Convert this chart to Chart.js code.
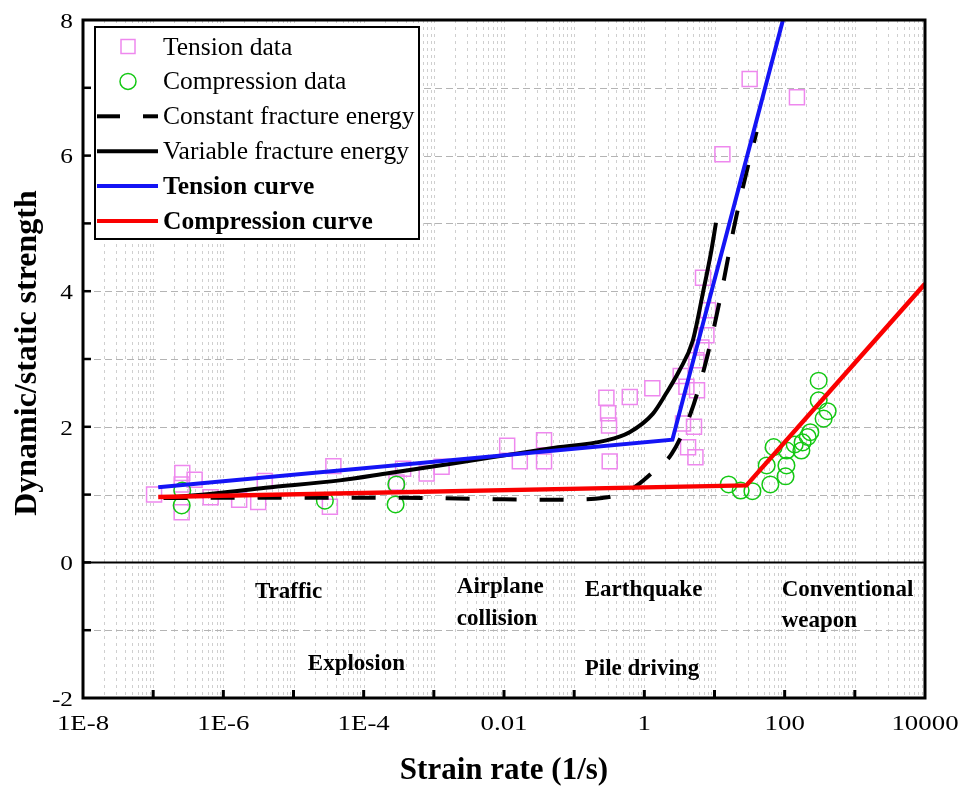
<!DOCTYPE html>
<html>
<head>
<meta charset="utf-8">
<script src="https://cdn.jsdelivr.net/npm/chart.js@4.4.1/dist/chart.umd.min.js"></script>
<style>
html,body{margin:0;padding:0;background:#ffffff;}
canvas{display:block;}
</style>
</head>
<body>
<canvas id="c" width="963" height="786"></canvas>
<script>
// ---------------- data ----------------
const xTickValues = [1e-8, 1e-6, 1e-4, 1e-2, 1, 1e2, 1e4];
const xTickLabels = ['1E-8', '1E-6', '1E-4', '0.01', '1', '100', '10000'];
const yTickValues = [-2, 0, 2, 4, 6, 8];
const yTickLabels = ['-2', '0', '2', '4', '6', '8'];

const tensionRate  = [1.03e-7, 2.6e-7, 3.9e-7, 2.55e-7, 2.55e-7, 6.6e-7, 1.68e-6, 3.14e-6, 3.9e-6, 3.7e-5, 3.3e-5,
                      2.94e-4, 3.65e-4, 7.9e-4, 1.29e-3, 0.0111, 0.0168, 0.0372, 0.0372, 0.288, 0.304, 0.314, 0.321,
                      0.62, 1.30, 3.3, 3.98, 5.63, 3.56, 5.1, 4.2, 5.35, 5.52, 6.5, 7.67, 8.08, 6.86, 12.96, 31.7, 149.6];
const tensionRatio = [1.00, 1.32, 1.22, 1.15, 0.74, 0.96, 0.925, 0.89, 1.20, 1.42, 0.82,
                      1.18, 1.38, 1.31, 1.41, 1.72, 1.49, 1.80, 1.49, 2.43, 2.20, 2.02, 1.49,
                      2.44, 2.57, 2.75, 2.59, 2.54, 2.05, 2.00, 1.70, 1.55, 2.98, 3.17, 3.35, 3.72, 4.20, 6.02, 7.13, 6.86];

const compressionRate  = [2.6e-7, 2.55e-7, 2.8e-5, 2.92e-4, 2.85e-4, 15.9, 23.6, 34.7, 62.5, 55.4, 69.7,
                          103, 106, 107, 139, 173, 180, 213, 232, 305, 305, 359, 410];
const compressionRatio = [1.06, 0.84, 0.91, 1.15, 0.855, 1.15, 1.06, 1.05, 1.15, 1.43, 1.70,
                          1.27, 1.43, 1.65, 1.74, 1.65, 1.77, 1.85, 1.92, 2.68, 2.39, 2.12, 2.23];

const constantRate  = [1.41e-7, 1e-5, 1e-3, 0.01, 0.0398, 0.126, 0.251, 0.501, 0.794, 1.41, 2.45, 4.57, 7.08, 10, 13.8, 18.6, 26.3, 39.8];
const constantRatio = [0.95, 0.955, 0.95, 0.93, 0.925, 0.93, 0.95, 1.02, 1.14, 1.36, 1.6, 2.2, 2.85, 3.5, 4.2, 4.9, 5.6, 6.35];

const variableRate  = [1.41e-7, 7.94e-7, 3.98e-6, 4.57e-5, 2.34e-4, 1.86e-3, 0.0447, 0.288, 0.617, 1.32, 2.04, 3.16, 4.9, 6.92, 9.02, 10.5];
const variableRatio = [0.95, 1.02, 1.10, 1.21, 1.32, 1.46, 1.68, 1.80, 1.92, 2.19, 2.49, 2.83, 3.27, 4.0, 4.6, 5.01];

const tensionCurveRate  = [1.18e-7, 2.51, 94.6];
const tensionCurveRatio = [1.11, 1.81, 8.0];
const compCurveRate  = [1.18e-7, 28.5, 1e4];
const compCurveRatio = [0.963, 1.136, 4.11];

const legendLabels = ['Tension data', 'Compression data', 'Constant fracture energy',
                      'Variable fracture energy', 'Tension curve', 'Compression curve'];

const regionLabels = ['Traffic', 'Explosion', 'Airplane', 'collision', 'Earthquake', 'Pile driving', 'Conventional', 'weapon'];
const regionRate   = [2.82e-6, 1.60e-5, 2.13e-3, 2.13e-3, 0.1416, 0.1416, 90.6, 90.6];
const regionRatio  = [-0.531, -1.593, -0.457, -0.929, -0.501, -1.667, -0.501, -0.959];

const xTitle = 'Strain rate (1/s)';
const yTitle = 'Dynamic/static strength';

// ---------------- helpers ----------------
const pts = (xs, ys) => xs.map((v, i) => ({x: v, y: ys[i]}));
const PINK = '#ee88ee', GREEN = '#14c814', BLUE = 'rgb(20,20,245)', RED = 'rgb(250,0,0)', BLACK = '#000000';
const SERIF = '"Liberation Serif", "Times New Roman", serif';

function stretchText(ctx, text, x, y, sx, align) {
  ctx.save();
  ctx.translate(x, y);
  ctx.scale(sx, 1);
  ctx.textAlign = align;
  ctx.fillText(text, 0, 0);
  ctx.restore();
}

const decor = {
  id: 'decor',
  beforeDatasetsDraw(chart) {
    const {ctx, chartArea: a, scales: {x, y}} = chart;
    ctx.save();
    // vertical minor grid
    ctx.strokeStyle = '#cfcfcf';
    ctx.lineWidth = 1;
    ctx.setLineDash([3, 4]);
    for (let e = -8; e < 4; e++) {
      for (let k = 1; k < 10; k++) {
        const v = k * Math.pow(10, e);
        const px = Math.round(x.getPixelForValue(v)) + 0.5;
        if (px <= a.left + 2 || px >= a.right - 2) continue;
        ctx.beginPath(); ctx.moveTo(px, a.top); ctx.lineTo(px, a.bottom); ctx.stroke();
      }
    }
    // horizontal grid
    ctx.strokeStyle = '#b4b4b4';
    ctx.setLineDash([7, 4]);
    for (let v = -1; v <= 7; v++) {
      if (v === 0) continue;
      const py = Math.round(y.getPixelForValue(v)) + 0.5;
      ctx.beginPath(); ctx.moveTo(a.left, py); ctx.lineTo(a.right, py); ctx.stroke();
    }
    ctx.setLineDash([]);
    // zero line
    ctx.strokeStyle = BLACK;
    ctx.lineWidth = 2;
    const zy = y.getPixelForValue(0);
    ctx.beginPath(); ctx.moveTo(a.left, zy); ctx.lineTo(a.right, zy); ctx.stroke();
    ctx.restore();
  },
  afterDatasetsDraw(chart) {
    const {ctx, chartArea: a, scales: {x, y}} = chart;
    ctx.save();
    // frame
    ctx.strokeStyle = BLACK;
    ctx.lineWidth = 3;
    ctx.strokeRect(a.left, a.top, a.right - a.left, a.bottom - a.top);
    // x ticks (each decade)
    ctx.lineWidth = 3;
    for (let e = -7; e < 4; e++) {
      const px = x.getPixelForValue(Math.pow(10, e));
      ctx.beginPath(); ctx.moveTo(px, a.bottom); ctx.lineTo(px, a.bottom - 8); ctx.stroke();
    }
    // y ticks (each integer)
    ctx.lineWidth = 2.5;
    for (let v = -1; v <= 7; v++) {
      const py = y.getPixelForValue(v);
      ctx.beginPath(); ctx.moveTo(a.left, py); ctx.lineTo(a.left + 8, py); ctx.stroke();
    }
    // tick labels
    ctx.fillStyle = BLACK;
    ctx.font = '22px ' + SERIF;
    ctx.textBaseline = 'alphabetic';
    xTickValues.forEach((v, i) => {
      stretchText(ctx, xTickLabels[i], x.getPixelForValue(v), a.bottom + 32, 1.22, 'center');
    });
    ctx.textBaseline = 'middle';
    yTickValues.forEach((v, i) => {
      stretchText(ctx, yTickLabels[i], a.left - 10, y.getPixelForValue(v) + 2, 1.15, 'right');
    });
    // region annotations
    ctx.font = 'bold 23px ' + SERIF;
    ctx.textBaseline = 'alphabetic';
    ctx.textAlign = 'left';
    regionLabels.forEach((t, i) => {
      ctx.fillText(t, x.getPixelForValue(regionRate[i]), y.getPixelForValue(regionRatio[i]));
    });
    // axis titles
    ctx.font = 'bold 31px ' + SERIF;
    ctx.textAlign = 'center';
    ctx.fillText(xTitle, (a.left + a.right) / 2, 779);
    ctx.save();
    ctx.translate(36, (a.top + a.bottom) / 2 - 6);
    ctx.rotate(-Math.PI / 2);
    ctx.font = 'bold 32px ' + SERIF;
    ctx.fillText(yTitle, 0, 0);
    ctx.restore();
    // legend
    const lx = 95, ly = 27, lw = 324, lh = 212;
    ctx.fillStyle = '#ffffff';
    ctx.fillRect(lx, ly, lw, lh);
    ctx.strokeStyle = BLACK;
    ctx.lineWidth = 2;
    ctx.strokeRect(lx, ly, lw, lh);
    legendLabels.forEach((t, i) => {
      const cy = 46.5 + 34.9 * i;
      ctx.save();
      if (i === 0) {
        ctx.strokeStyle = PINK; ctx.lineWidth = 1.5;
        ctx.strokeRect(121, cy - 7, 14, 14);
      } else if (i === 1) {
        ctx.strokeStyle = GREEN; ctx.lineWidth = 1.5;
        ctx.beginPath(); ctx.arc(128, cy, 8, 0, Math.PI * 2); ctx.stroke();
      } else {
        ctx.strokeStyle = [BLACK, BLACK, BLUE, RED][i - 2];
        ctx.lineWidth = 4;
        if (i === 2) ctx.setLineDash([23, 23]);
        ctx.beginPath(); ctx.moveTo(97, cy); ctx.lineTo(158, cy); ctx.stroke();
      }
      ctx.restore();
      ctx.fillStyle = BLACK;
      ctx.textAlign = 'left';
      ctx.textBaseline = 'alphabetic';
      ctx.font = (i >= 4 ? 'bold ' : '') + '25.5px ' + SERIF;
      ctx.fillText(t, 163, cy + 8);
    });
    ctx.restore();
  }
};

new Chart(document.getElementById('c'), {
  type: 'scatter',
  data: {
    datasets: [
      { label: legendLabels[0], data: pts(tensionRate, tensionRatio), order: 6,
        pointStyle: 'rect', pointRadius: 10.6, pointBorderWidth: 1.5,
        borderColor: PINK, pointBorderColor: PINK, backgroundColor: 'rgba(0,0,0,0)', pointBackgroundColor: 'rgba(0,0,0,0)' },
      { label: legendLabels[1], data: pts(compressionRate, compressionRatio), order: 5,
        pointStyle: 'circle', pointRadius: 8.3, pointBorderWidth: 1.5,
        borderColor: GREEN, pointBorderColor: GREEN, backgroundColor: 'rgba(0,0,0,0)', pointBackgroundColor: 'rgba(0,0,0,0)' },
      { label: legendLabels[2], data: pts(constantRate, constantRatio), order: 4, showLine: true,
        borderColor: BLACK, borderWidth: 4, borderDash: [24, 23], pointRadius: 0, fill: false,
        cubicInterpolationMode: 'monotone' },
      { label: legendLabels[3], data: pts(variableRate, variableRatio), order: 3, showLine: true,
        borderColor: BLACK, borderWidth: 4, pointRadius: 0, fill: false,
        cubicInterpolationMode: 'monotone' },
      { label: legendLabels[4], data: pts(tensionCurveRate, tensionCurveRatio), order: 2, showLine: true,
        borderColor: BLUE, borderWidth: 4, pointRadius: 0, fill: false },
      { label: legendLabels[5], data: pts(compCurveRate, compCurveRatio), order: 1, showLine: true,
        borderColor: RED, borderWidth: 4.5, pointRadius: 0, fill: false }
    ]
  },
  options: {
    responsive: false,
    animation: false,
    devicePixelRatio: 1,
    layout: { padding: { left: 83, top: 20, right: 38, bottom: 88 } },
    plugins: { legend: { display: false }, tooltip: { enabled: false } },
    scales: {
      x: { type: 'logarithmic', min: 1e-8, max: 1e4, display: false },
      y: { type: 'linear', min: -2, max: 8, display: false }
    }
  },
  plugins: [decor]
});
</script>
</body>
</html>
